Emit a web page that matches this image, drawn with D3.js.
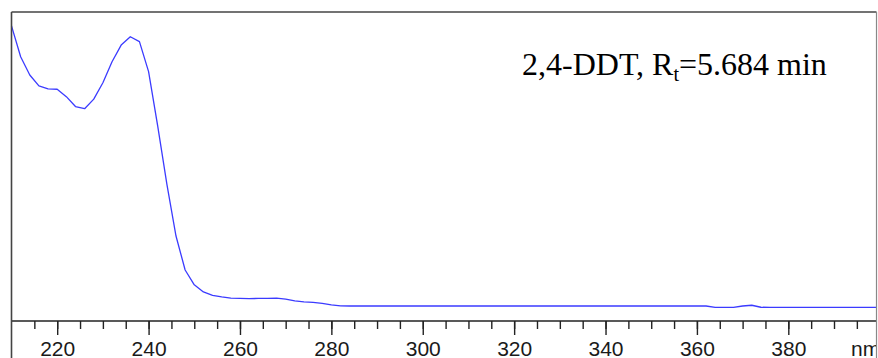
<!DOCTYPE html>
<html>
<head>
<meta charset="utf-8">
<script src="https://cdn.jsdelivr.net/npm/d3@7"></script>
<style>
  html, body { margin: 0; padding: 0; background: #fff; }
  svg { display: block; }
</style>
</head>
<body>
<svg id="chart" width="878" height="358"></svg>
<script>
// UV spectrum of 2,4-DDT (absorbance, arbitrary units) against wavelength in nm
const wavelength = [210, 212, 214, 216, 218, 220, 222, 224, 226, 228, 230, 232, 234, 236, 238,
  240, 242, 244, 246, 248, 250, 252, 254, 256, 258, 260, 262, 264, 266, 268, 270, 272, 274,
  276, 278, 280, 282, 284, 290, 300, 310, 320, 330, 340, 350, 360, 362, 364, 366, 368, 370,
  372, 374, 376, 380, 390, 399.3];
const absorbance = [95.5, 85.5, 79.6, 76.1, 75.1, 75.0, 72.6, 69.4, 68.7, 71.8, 77.1, 83.9, 89.3, 92.0, 90.4,
  80.7, 63.1, 44.3, 27.5, 16.5, 11.7, 9.4, 8.3, 7.8, 7.4, 7.3, 7.25, 7.3, 7.35, 7.4, 7.05, 6.5, 6.2,
  6.0, 5.7, 5.2, 4.9, 4.85, 4.85, 4.85, 4.85, 4.85, 4.85, 4.85, 4.85, 4.85, 4.85, 4.4, 4.4, 4.4, 4.85,
  5.1, 4.45, 4.4, 4.4, 4.4, 4.4];
const majorTicks = [220, 240, 260, 280, 300, 320, 340, 360, 380];
const minorTicks = d3.range(215, 399, 5);
const unitLabel = "nm";
const titleMain = "2,4-DDT, R";
const titleSub = "t";
const titleTail = "=5.684 min";

const svg = d3.select("#chart");
const W = 878, H = 358;
const plotLeft = 11.5, plotRight = 876.5, plotTop = 12, axisY = 321;

const x = d3.scaleLinear().domain([210, 399.3]).range([plotLeft, plotRight]);
const y = d3.scaleLinear().domain([0, 100]).range([axisY, plotTop]);

// spectrum trace
const points = wavelength.map((w, i) => [w, absorbance[i]]);
svg.append("path")
  .datum(points)
  .attr("fill", "none")
  .attr("stroke", "#3b3bff")
  .attr("stroke-width", 1.3)
  .attr("stroke-linejoin", "round")
  .attr("d", d3.line().x(d => x(d[0])).y(d => y(d[1])));

// minor ticks every 5 nm
const minorAxis = d3.axisBottom(x).tickValues(minorTicks).tickSize(8).tickFormat("");
svg.append("g").attr("transform", `translate(0,${axisY})`).call(minorAxis)
  .call(g => g.select(".domain").remove())
  .call(g => g.selectAll("line").attr("stroke", "#222").attr("stroke-width", 1.4));

// major ticks with labels
const majorAxis = d3.axisBottom(x).tickValues(majorTicks).tickSize(14).tickFormat(d3.format("d"));
const gx = svg.append("g").attr("transform", `translate(0,${axisY})`).call(majorAxis);
gx.select(".domain").remove();
gx.selectAll("line").attr("stroke", "#222").attr("stroke-width", 1.4);
gx.selectAll("text")
  .attr("y", 34.5).attr("dy", 0)
  .attr("fill", "#1a1a1a")
  .style("font-family", "'Liberation Sans', Arial, sans-serif")
  .style("font-size", "21px");

// x axis baseline
svg.append("line")
  .attr("x1", plotLeft).attr("x2", plotRight).attr("y1", axisY).attr("y2", axisY)
  .attr("stroke", "#222").attr("stroke-width", 1.5);

// unit label, clipped at the right frame edge
svg.append("clipPath").attr("id", "clipUnit")
  .append("rect").attr("x", 0).attr("y", 0).attr("width", plotRight).attr("height", H);
svg.append("text")
  .attr("x", 851).attr("y", 355.5)
  .attr("clip-path", "url(#clipUnit)")
  .attr("fill", "#1a1a1a")
  .style("font-family", "'Liberation Sans', Arial, sans-serif")
  .style("font-size", "21px")
  .text(unitLabel);

// frame: top, left and right edges
svg.append("line").attr("x1", plotLeft).attr("x2", plotRight).attr("y1", plotTop).attr("y2", plotTop)
  .attr("stroke", "#444").attr("stroke-width", 1.6);
svg.append("line").attr("x1", plotLeft).attr("x2", plotLeft).attr("y1", plotTop).attr("y2", H)
  .attr("stroke", "#444").attr("stroke-width", 1.6);
svg.append("line").attr("x1", plotRight).attr("x2", plotRight).attr("y1", plotTop).attr("y2", H)
  .attr("stroke", "#888").attr("stroke-width", 1.2);

// compound annotation
const title = svg.append("text")
  .attr("x", 522).attr("y", 75)
  .attr("fill", "#000")
  .style("font-family", "'Liberation Serif', 'Times New Roman', serif")
  .style("font-size", "32px");
title.append("tspan").text(titleMain);
title.append("tspan").attr("dy", 6).style("font-size", "20px").text(titleSub);
title.append("tspan").attr("dy", -6).text(titleTail);
</script>
</body>
</html>
